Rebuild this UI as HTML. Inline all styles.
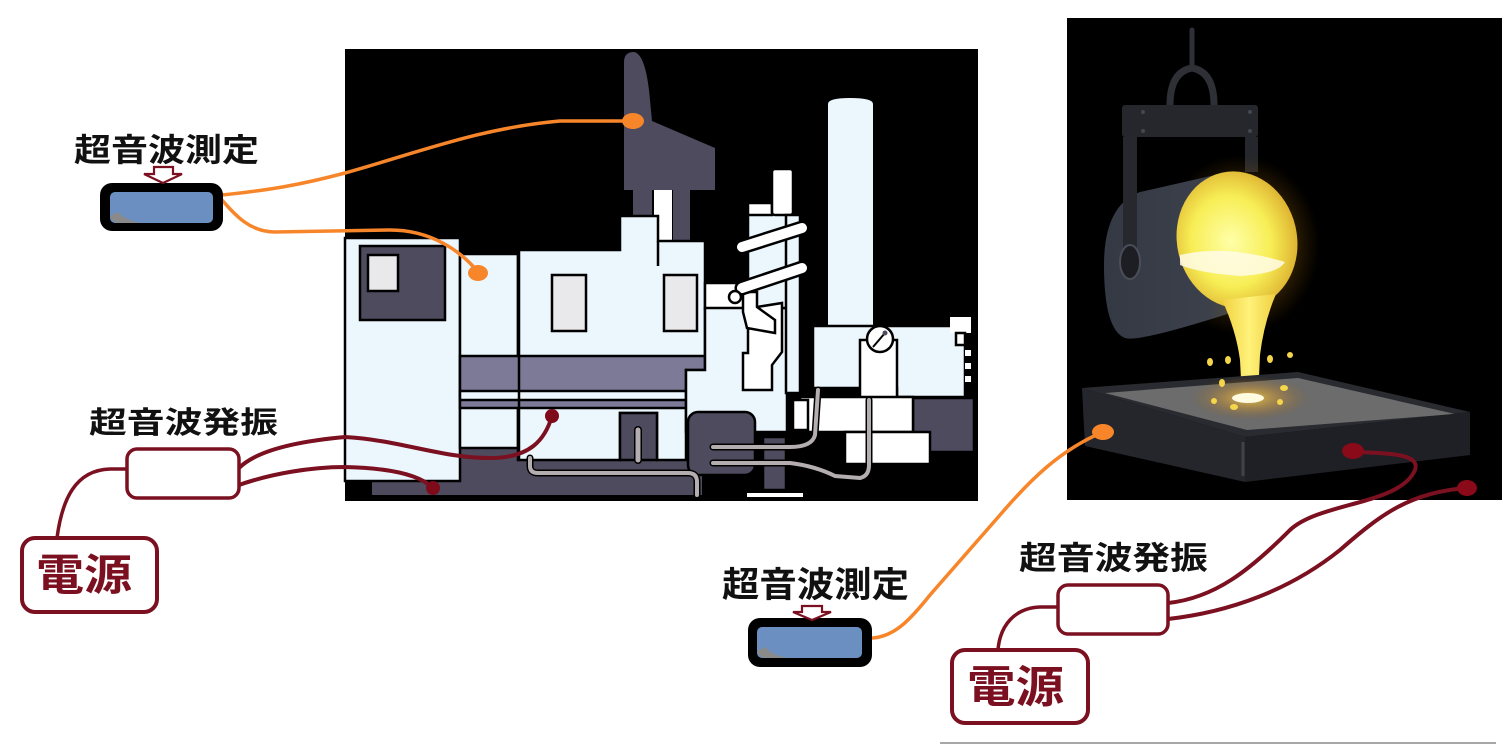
<!DOCTYPE html>
<html><head><meta charset="utf-8">
<style>
html,body{margin:0;padding:0;background:#fff;}
svg{display:block;}
text{font-family:"Liberation Sans","Noto Sans CJK JP",sans-serif;font-weight:bold;}
</style></head>
<body>
<svg width="1510" height="745" viewBox="0 0 1510 745" xmlns="http://www.w3.org/2000/svg">
<defs>
 <radialGradient id="molt" cx="0.45" cy="0.5" r="0.6">
  <stop offset="0" stop-color="#ffffa8"/>
  <stop offset="0.55" stop-color="#f7ee55"/>
  <stop offset="1" stop-color="#d9a62a"/>
 </radialGradient>
 <radialGradient id="glow">
  <stop offset="0" stop-color="#ffd84a" stop-opacity="0.8"/>
  <stop offset="0.5" stop-color="#e8a020" stop-opacity="0.35"/>
  <stop offset="1" stop-color="#a06000" stop-opacity="0"/>
 </radialGradient>
 <linearGradient id="body" x1="0" y1="0" x2="1" y2="0">
  <stop offset="0" stop-color="#343944"/>
  <stop offset="0.7" stop-color="#3b404b"/>
  <stop offset="1" stop-color="#5c5236"/>
 </linearGradient>
 <linearGradient id="stream" x1="0" y1="0" x2="1" y2="0">
  <stop offset="0" stop-color="#f0d040"/>
  <stop offset="0.5" stop-color="#fff27a"/>
  <stop offset="1" stop-color="#f0d040"/>
 </linearGradient>
</defs>
<rect width="1510" height="745" fill="#fff"/>

<!-- ============ MACHINE ============ -->
<rect x="345" y="49" width="633" height="452" fill="#000"/>
<path d="M624,190 L624,62 Q624,52 634,52 Q646,54 650,100 L652,121 L715,148 L715,190 Z" fill="#4e4b5e"/>
<rect x="633" y="190" width="19" height="28" fill="#4e4b5e"/>
<rect x="654" y="190" width="18" height="52" fill="#fff"/>
<rect x="673" y="190" width="17" height="52" fill="#4e4b5e"/>
<rect x="372" y="440" width="330" height="55" fill="#4e4b5e"/>

<g stroke="#000" stroke-width="2.5">
 <rect x="345" y="238" width="115" height="243" fill="#ebf6fd"/>
 <rect x="360" y="246" width="85" height="74" fill="#4e4b5e"/>
 <rect x="368" y="255" width="30" height="36" fill="#e9e9eb"/>
 <rect x="460" y="254" width="58" height="194" fill="#ebf6fd"/>
 <path d="M518,250 L620,250 L620,216 L658,216 L658,241 L705,241 L705,370 L686,370 L686,460 L657,460 L657,413 L620,413 L620,460 L518,460 Z" fill="#ebf6fd"/>
 <line x1="658" y1="241" x2="658" y2="266"/>
 <path d="M460,356 L705,356 L705,370 L686,370 L686,408 L460,408 Z" fill="#7d7a98"/>
 <rect x="460" y="391" width="226" height="9" fill="#ebf6fd"/>
 <line x1="519" y1="250" x2="519" y2="460"/>
 <rect x="552" y="275" width="34" height="56" fill="#e9e9eb"/>
 <rect x="664" y="275" width="33" height="56" fill="#e9e9eb"/>
 <rect x="620" y="413" width="37" height="47" fill="#4e4b5e"/>

 <rect x="705" y="283" width="40" height="26" fill="#fff"/>
 <path d="M686,370 L705,370 L705,308 L787,308 L787,432 L686,432 Z" fill="#ebf6fd"/>
 <rect x="748" y="203" width="39" height="105" fill="#ebf6fd"/>
 <rect x="748" y="203" width="24" height="12" fill="#fff"/>
 <rect x="772" y="169" width="21" height="46" rx="3" fill="#fff"/>
 <rect x="786" y="215" width="14" height="178" fill="#ebf6fd"/>
 <path d="M757,307 L782,303 L782,352 L772,365 L772,390 L743,390 L743,353 L748,353 L748,330 Z" fill="#fff"/>
 <path d="M743,292 L757,292 L757,307 L775,320 L775,333 L747,328 L743,312 Z" fill="#fff"/>
</g>
<g stroke-linecap="round">
 <line x1="742" y1="247" x2="802" y2="228" stroke="#000" stroke-width="15"/>
 <line x1="742" y1="247" x2="802" y2="228" stroke="#fff" stroke-width="10"/>
 <line x1="742" y1="288" x2="802" y2="268" stroke="#000" stroke-width="15"/>
 <line x1="742" y1="288" x2="802" y2="268" stroke="#fff" stroke-width="10"/>
</g>
<circle cx="735" cy="297" r="6" fill="#fff" stroke="#000" stroke-width="2.5"/>

<path d="M828,325 L828,104 Q828,98 850,98 Q873,98 873,104 L873,325 Z" fill="#ebf6fd"/>
<g stroke="#000" stroke-width="2.5">
 <path d="M813,326 L965,326 L965,397 L897,397 L897,388 L813,388 Z" fill="#ebf6fd"/>
 <rect x="860" y="340" width="37" height="60" fill="#fff"/>
 <circle cx="880" cy="339" r="13" fill="#fff"/>
 <line x1="873" y1="347" x2="885" y2="333" stroke-width="2"/>
 <rect x="950" y="317" width="21" height="16" fill="#fff" stroke="none"/>
 <rect x="956" y="333" width="9" height="12" fill="#fff"/>
 <rect x="913" y="398" width="61" height="54" fill="#4e4b5e"/>
 <rect x="800" y="397" width="113" height="35" fill="#fff"/>
 <rect x="845" y="432" width="85" height="32" fill="#fff"/>
 <rect x="793" y="400" width="15" height="30" fill="#fff"/>
 <rect x="688" y="412" width="67" height="63" rx="10" fill="#4e4b5e"/>
 <rect x="763" y="437" width="23" height="53" fill="#4e4b5e"/>
</g>
<circle cx="885" cy="333" r="2.5" fill="#4e4b5e"/>
<rect x="965" y="350" width="6" height="6" fill="#fff"/>
<rect x="965" y="363" width="6" height="6" fill="#fff"/>
<rect x="965" y="376" width="6" height="6" fill="#fff"/>
<rect x="747" y="493" width="56" height="4" fill="#fff"/>
<g fill="none" stroke-linejoin="round" stroke-linecap="round">
 <path d="M530,458 L530,466 Q530,473 538,473 L688,473 Q697,473 697,482 L697,495" stroke="#000" stroke-width="7"/>
 <path d="M530,458 L530,466 Q530,473 538,473 L688,473 Q697,473 697,482 L697,495" stroke="#b5aeb0" stroke-width="4"/>
 <path d="M638,460 L638,430" stroke="#000" stroke-width="8"/>
 <path d="M638,460 L638,430" stroke="#b5aeb0" stroke-width="5"/>
 <path d="M713,447 L790,447 Q812,447 815,435 L818,390" stroke="#000" stroke-width="7"/>
 <path d="M713,447 L790,447 Q812,447 815,435 L818,390" stroke="#b5aeb0" stroke-width="4"/>
 <path d="M713,463 L790,463 Q815,466 835,476 L860,478 Q869,476 869,465 L869,400" stroke="#000" stroke-width="7"/>
 <path d="M713,463 L790,463 Q815,466 835,476 L860,478 Q869,476 869,465 L869,400" stroke="#b5aeb0" stroke-width="4"/>
</g>

<!-- ============ LADLE IMAGE ============ -->
<rect x="1067" y="18" width="435" height="482" fill="#000"/>
<path d="M1192,30 L1192,66" stroke="#2e3036" stroke-width="5" stroke-linecap="round"/>
<path d="M1170,105 Q1170,72 1192,68 Q1214,72 1214,105" fill="none" stroke="#2e3036" stroke-width="7"/>
<rect x="1122" y="105" width="136" height="32" rx="3" fill="#25272c"/>
<circle cx="1143" cy="112" r="2" fill="#44474f"/><circle cx="1250" cy="112" r="2" fill="#44474f"/>
<circle cx="1143" cy="131" r="2" fill="#44474f"/><circle cx="1250" cy="131" r="2" fill="#44474f"/>
<rect x="1245" y="137" width="13" height="35" fill="#25272c"/>
<ellipse cx="1240" cy="245" rx="80" ry="90" fill="url(#glow)"/>
<path d="M1215,175 L1140,192 Q1104,205 1104,265 Q1104,330 1125,338 Q1140,343 1252,306 Z" fill="url(#body)"/>
<rect x="1123" y="137" width="14" height="125" fill="#26282e"/>
<ellipse cx="1130" cy="262" rx="10" ry="17" fill="#1d1e23" stroke="#4a4e58" stroke-width="2"/>
<ellipse cx="1237" cy="240" rx="60" ry="69" transform="rotate(-13 1237 240)" fill="url(#molt)"/>
<path d="M1180,255 Q1225,244 1285,262 Q1278,274 1240,276 Q1200,273 1180,265 Z" fill="#fffbe8" opacity="0.85"/>
<path d="M1222,300 Q1236,330 1240,360 L1242,398 L1258,398 L1260,355 Q1264,322 1276,294 Z" fill="url(#stream)"/>
<polygon points="1082,388 1298,372 1470,412 1245,437" fill="#2a2b30"/>
<polygon points="1105,393 1298,378 1455,414 1247,430" fill="#6c6c6c"/>
<ellipse cx="1250" cy="398" rx="60" ry="22" fill="url(#glow)"/>
<ellipse cx="1248" cy="398" rx="16" ry="5" fill="#fffbe0"/>
<polygon points="1082,388 1245,437 1245,482 1085,446" fill="#25262b"/>
<polygon points="1245,437 1470,412 1470,455 1245,482" fill="#1f2025"/>
<line x1="1243" y1="442" x2="1243" y2="476" stroke="#40424a" stroke-width="3"/>
<g fill="#f5d54a">
 <ellipse cx="1210" cy="362" rx="3" ry="4"/>
 <ellipse cx="1228" cy="360" rx="3" ry="4"/>
 <ellipse cx="1270" cy="359" rx="3" ry="4"/>
 <ellipse cx="1290" cy="355" rx="3" ry="3"/>
 <ellipse cx="1222" cy="383" rx="3" ry="4"/>
 <ellipse cx="1214" cy="401" rx="3" ry="3"/>
 <ellipse cx="1234" cy="407" rx="4" ry="3"/>
 <ellipse cx="1284" cy="388" rx="4" ry="3"/>
 <ellipse cx="1280" cy="402" rx="3" ry="3"/>
</g>

<!-- ============ CONNECTORS ============ -->
<g fill="none" stroke-linecap="round">
 <path d="M222,195 C270,190 300,185 345,173 C420,152 480,128 560,121 L633,121" stroke="#f7862a" stroke-width="3.5"/>
 <path d="M222,200 C235,215 250,232 275,232 L390,230 C430,230 460,250 478,272" stroke="#f7862a" stroke-width="3.5"/>
 <path d="M873,638 C895,636 910,620 930,595 L1000,515 C1030,480 1060,450 1103,432" stroke="#f7862a" stroke-width="3.5"/>
 <path d="M239,468 C255,452 290,442 345,437 C400,440 440,458 490,458 C530,458 545,440 552,416" stroke="#7b1020" stroke-width="4"/>
 <path d="M239,485 C270,474 310,467 345,467 C390,468 420,475 433,488" stroke="#7b1020" stroke-width="4"/>
 <path d="M57,538 C62,500 75,470 110,469 L127,469" stroke="#7b1020" stroke-width="3.5"/>
 <path d="M1168,603 C1215,598 1250,570 1290,530 C1320,502 1400,505 1415,470 C1420,455 1395,453 1355,452" stroke="#7b1020" stroke-width="4"/>
 <path d="M1168,619 C1230,612 1290,590 1340,550 C1380,515 1410,492 1467,488" stroke="#7b1020" stroke-width="4"/>
 <path d="M998,650 C1000,625 1015,608 1040,607 L1058,607" stroke="#7b1020" stroke-width="3.5"/>
</g>
<ellipse cx="633" cy="121" rx="11" ry="8" fill="#f7862a"/>
<ellipse cx="478" cy="273" rx="10" ry="8" fill="#f7862a"/>
<ellipse cx="1103" cy="432" rx="11" ry="8" fill="#f7862a"/>
<circle cx="552" cy="416" r="7" fill="#7e0a1a"/>
<circle cx="433" cy="488" r="7" fill="#7e0a1a"/>
<ellipse cx="1353" cy="451" rx="11" ry="8" fill="#8a0a1a"/>
<ellipse cx="1467" cy="488" rx="10" ry="8" fill="#8a0a1a"/>

<!-- ============ SENSORS ============ -->
<rect x="100" y="183" width="123" height="48" rx="12" fill="#000"/>
<rect x="110" y="192" width="103" height="31" rx="5" fill="#6b8fc0"/>
<path d="M110,216 Q112,223 120,223 L140,223 Q125,220 118,212 Z" fill="#8a8a8a"/>
<rect x="748" y="618" width="124" height="49" rx="12" fill="#000"/>
<rect x="757" y="627" width="105" height="31" rx="5" fill="#6b8fc0"/>
<path d="M757,651 Q759,658 767,658 L787,658 Q772,655 765,647 Z" fill="#8a8a8a"/>

<polygon points="154,167 173,167 173,174 182,174 163,183 144,174 154,174" fill="#fff" stroke="#7b1020" stroke-width="2.2"/>
<polygon points="802,606 822,606 822,612 831,612 812,620 793,612 802,612" fill="#fff" stroke="#7b1020" stroke-width="2.2"/>

<rect x="127" y="449" width="112" height="49" rx="10" fill="#fff" stroke="#7b1020" stroke-width="3.5"/>
<rect x="22" y="538" width="135" height="74" rx="13" fill="#fff" stroke="#7b1020" stroke-width="4"/>
<rect x="1058" y="585" width="110" height="49" rx="10" fill="#fff" stroke="#7b1020" stroke-width="3.5"/>
<rect x="952" y="650" width="136" height="73" rx="13" fill="#fff" stroke="#7b1020" stroke-width="4"/>

<!-- labels -->
<text x="74" y="161" font-size="32" textLength="185" lengthAdjust="spacingAndGlyphs" fill="#111">超音波測定</text>
<text x="89" y="433" font-size="30" textLength="189" lengthAdjust="spacingAndGlyphs" fill="#111">超音波発振</text>
<text x="722" y="597" font-size="35" textLength="187" lengthAdjust="spacingAndGlyphs" fill="#111">超音波測定</text>
<text x="1019" y="569" font-size="32" textLength="189" lengthAdjust="spacingAndGlyphs" fill="#111">超音波発振</text>
<text x="36" y="590" font-size="43" textLength="96" lengthAdjust="spacingAndGlyphs" fill="#7b1020">電源</text>
<text x="967" y="702" font-size="44" textLength="97" lengthAdjust="spacingAndGlyphs" fill="#7b1020">電源</text>

<line x1="940" y1="743" x2="1496" y2="743" stroke="#8a8a8a" stroke-width="1.5"/>
</svg>
</body></html>
